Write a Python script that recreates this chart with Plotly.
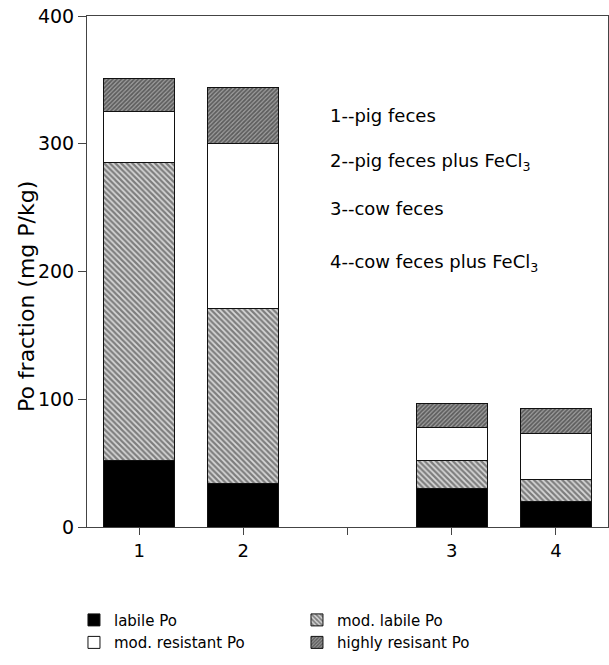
import plotly.graph_objects as go

positions = [1, 2, 4, 5]
tick_vals = [1, 2, 3, 4, 5]
tick_text = ["1", "2", "", "3", "4"]

labile = [52, 34, 30, 20]
mod_labile = [233, 137, 22, 17]
mod_resistant = [40, 129, 26, 36]
highly_resistant = [26, 44, 19, 20]

notes = ["1--pig feces", "2--pig feces plus FeCl<sub>3</sub>",
         "3--cow feces", "4--cow feces plus FeCl<sub>3</sub>"]
note_y = [322, 286, 249, 207]
y_title = "Po fraction (mg P/kg)"

FONT = "DejaVu Sans"

fig = go.Figure()
common = dict(width=0.68, marker_line=dict(color="#111", width=1))
fig.add_bar(x=positions, y=labile, name="labile Po",
            marker=dict(color="black"), **common)
fig.add_bar(x=positions, y=mod_labile, name="mod. labile Po",
            marker=dict(color="white",
                        pattern=dict(shape="\\", size=4, solidity=0.55,
                                     fgcolor="#222", bgcolor="#d8d8d8", fillmode="overlay")),
            **common)
fig.add_bar(x=positions, y=mod_resistant, name="mod. resistant Po",
            marker=dict(color="white"), **common)
fig.add_bar(x=positions, y=highly_resistant, name="highly resisant Po",
            marker=dict(color="white",
                        pattern=dict(shape="/", size=3, solidity=0.6,
                                     fgcolor="#1a1a1a", bgcolor="#a0a0a0", fillmode="overlay")),
            **common)

for t, yy in zip(notes, note_y):
    fig.add_annotation(x=2.81, y=yy, text=t, showarrow=False, xanchor="left",
                       yanchor="middle", font=dict(family=FONT, size=18, color="black"))

fig.add_annotation(xref="paper", yref="paper", x=-0.117, y=0.45, text=y_title,
                   textangle=-90, showarrow=False, xanchor="center", yanchor="middle",
                   font=dict(family=FONT, size=22, color="black"))

fig.update_layout(
    barmode="stack",
    width=609, height=665,
    margin=dict(l=87, r=1, t=16, b=138),
    plot_bgcolor="white", paper_bgcolor="white",
    font=dict(family=FONT, color="black"),
    showlegend=True,
    legend=dict(orientation="h", x=-0.025, xanchor="left", y=-0.15, yanchor="top",
                entrywidth=178, entrywidthmode="pixels", traceorder="normal",
                font=dict(family=FONT, size=15), itemwidth=30, tracegroupgap=0),
)
fig.update_xaxes(range=[0.5, 5.5], tickvals=tick_vals, ticktext=tick_text,
                 showline=True, linecolor="#444", linewidth=1, mirror=True,
                 ticks="outside", ticklen=7, tickcolor="#444", showgrid=False, zeroline=False,
                 tickfont=dict(family=FONT, size=18), automargin=False)
fig.update_yaxes(range=[0, 400], tickvals=[0, 100, 200, 300, 400],
                 showline=True, linecolor="#444", linewidth=1, mirror=True,
                 ticks="outside", ticklen=8, tickcolor="#444", showgrid=False, zeroline=False,
                 tickfont=dict(family=FONT, size=19), automargin=False,
                 ticklabeloverflow="allow")

fig.write_html("out.html", config={"displayModeBar": False},
               post_script="document.body.style.margin='0';")
